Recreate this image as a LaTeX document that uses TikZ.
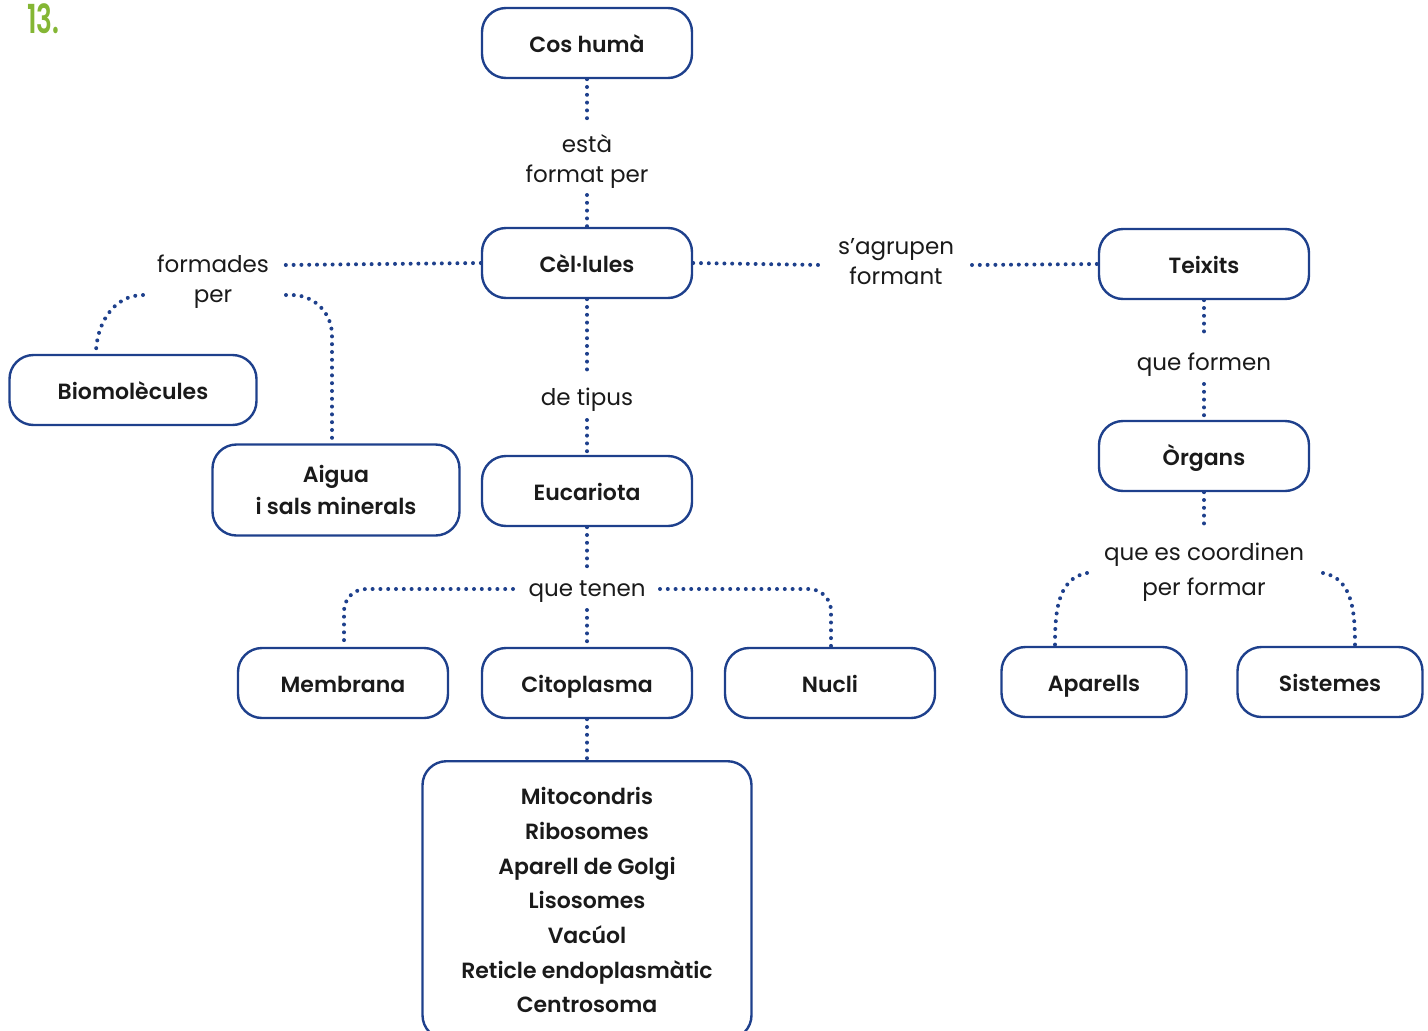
\documentclass[tikz,border=0pt]{standalone}
\usepackage{fontspec}
\setmainfont{Poppins}[BoldFont={Poppins SemiBold}]
\usetikzlibrary{calc}
\definecolor{navy}{RGB}{30,64,140}
\definecolor{ink}{RGB}{26,26,26}
\definecolor{lime}{RGB}{132,182,52}
\begin{document}
\begin{tikzpicture}[x=1pt,y=-1pt,
 box/.style={draw=navy, line width=2.4pt, rounded corners=24pt, minimum width=210pt, minimum height=70pt,
   font=\bfseries\fontsize{22}{32}\selectfont, text=ink, align=center, inner sep=0pt},
 one/.style={text height=18.5pt, text depth=0pt},
 lbl/.style={font=\fontsize{23}{30}\selectfont, text=ink, align=center, inner sep=0pt},
 dots/.style={draw=navy, line width=4pt, line cap=round, dash pattern=on 0pt off 7.8pt},
]
\useasboundingbox (0,0) rectangle (1428,1031);
\clip (0,0) rectangle (1428,1031);

\node[font=\bfseries\fontsize{40}{40}\selectfont, text=lime, anchor=north west, inner sep=0pt] (num) at (27,3) {\scalebox{0.66}[1]{13.}};

% boxes
\node[box, one] (cos) at (587,43) {Cos humà};
\node[box, one] (cel) at (587,263) {Cèl·lules};
\node[box, one] (tei) at (1204,264) {Teixits};
\node[box, one] (org) at (1204,456) {Òrgans};
\node[box, one, minimum width=247pt] (bio) at (133,390) {Biomolècules};
\node[box, minimum width=247pt, minimum height=91pt] (aig) at (336,490) {Aigua\\i sals minerals};
\node[box, one] (euc) at (587,491) {Eucariota};
\node[box, one] (mem) at (343,683) {Membrana};
\node[box, one] (cit) at (587,683) {Citoplasma};
\node[box, one] (nuc) at (830,683) {Nucli};
\node[box, one, minimum width=185pt] (apa) at (1094,682) {Aparells};
\node[box, one, minimum width=185pt] (sis) at (1330,682) {Sistemes};
\node[box, minimum width=329pt, minimum height=278pt, anchor=north,
  font=\bfseries\fontsize{22}{34.7}\selectfont] (orgl) at (587,760)
  {Mitocondris\\Ribosomes\\Aparell de Golgi\\Lisosomes\\Vacúol\\Reticle endoplasmàtic\\Centrosoma};

% labels
\node[lbl] (l1) at (587,161) {està\\format per};
\node[lbl] (l2) at (213,282) {formades\\per};
\node[lbl] (l3) at (896,262) {s’agrupen\\formant};
\node[lbl] (l4) at (587,400) {de tipus};
\node[lbl] (l5) at (1204,365) {que formen};
\node[lbl, font=\fontsize{23}{35}\selectfont] (l6) at (1204,572) {que es coordinen\\per formar};
\node[lbl] (l7) at (587,592) {que tenen};

% free-end coordinates
\coordinate (a1) at (587,120);
\coordinate (a2) at (587,195);
\coordinate (b1) at (285,265);
\coordinate (c1) at (822,265);
\coordinate (c2) at (972,265);
\coordinate (d1) at (587,375);
\coordinate (d2) at (587,420);
\coordinate (e1) at (1204,338);
\coordinate (e2) at (1204,384);
\coordinate (f1) at (1204,530);
\coordinate (g1) at (143,295);
\coordinate (g2) at (286,295);
\coordinate (h1) at (1087,573);
\coordinate (h2) at (1323,573);
\coordinate (k1) at (587,568);
\coordinate (k2) at (587,610);
\coordinate (m1) at (513,589);
\coordinate (m2) at (660,589);

% connectors
\draw[dots] (cos.south) -- (a1);
\draw[dots] (a2) -- (cel.north);
\draw[dots] (cel.west) -- (b1);
\draw[dots] (cel.east) -- (c1);
\draw[dots] (c2) -- (tei.west);
\draw[dots] (cel.south) -- (d1);
\draw[dots] (d2) -- (euc.north);
\draw[dots] (tei.south) -- (e1);
\draw[dots] (e2) -- (org.north);
\draw[dots] (org.south) -- (f1);
\draw[dots] (g1) to[out=180,in=90] ([xshift=-37pt]bio.north);
\draw[dots, rounded corners=40pt] (g2) -| ([xshift=-4pt]aig.north);
\draw[dots] (h1) to[out=190,in=90] ([xshift=-39pt]apa.north);
\draw[dots] (h2) to[out=-10,in=90] ([xshift=25pt]sis.north);
\draw[dots] (euc.south) -- (k1);
\draw[dots] (k2) -- (cit.north);
\draw[dots, rounded corners=22pt] (m1) -| ([xshift=1pt]mem.north);
\draw[dots, rounded corners=22pt] (m2) -| ([xshift=1pt]nuc.north);
\draw[dots] (cit.south) -- (orgl.north);
\end{tikzpicture}
\end{document}
